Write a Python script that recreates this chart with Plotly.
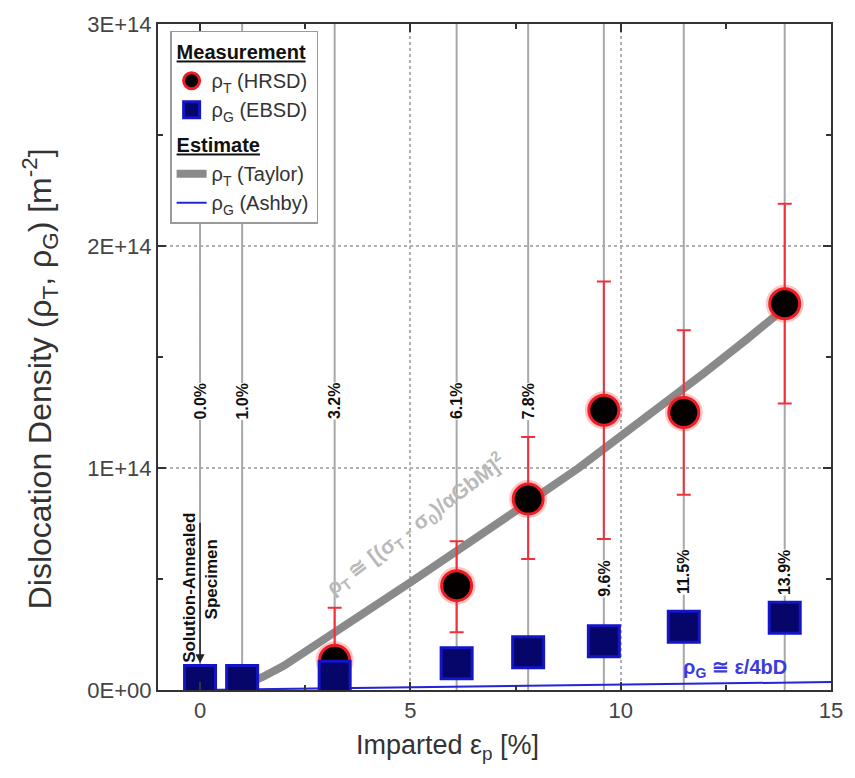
import plotly.graph_objects as go

# ---------------- data ----------------
strain = [0.0, 1.0, 3.2, 6.1, 7.8, 9.6, 11.5, 13.9]
strain_labels = ["0.0%", "1.0%", "3.2%", "6.1%", "7.8%", "9.6%", "11.5%", "13.9%"]
label_y = [1.30e14, 1.30e14, 1.30e14, 1.30e14, 1.30e14, 0.50e14, 0.53e14, 0.53e14]

hrsd_strain = [3.2, 6.1, 7.8, 9.6, 11.5, 13.9]
rho_T_hrsd = [0.134e14, 0.47e14, 0.86e14, 1.26e14, 1.25e14, 1.74e14]
rho_T_err_plus = [0.236e14, 0.20e14, 0.28e14, 0.58e14, 0.37e14, 0.45e14]
rho_T_err_minus = [0.10e14, 0.21e14, 0.27e14, 0.58e14, 0.37e14, 0.45e14]

rho_G_ebsd = [0.04e14, 0.04e14, 0.06e14, 0.12e14, 0.17e14, 0.22e14, 0.285e14, 0.325e14]
rho_G_err = [0.02e14] * 8

taylor_x = [1.0, 1.5, 2.0, 2.5, 3.0, 3.5, 4.0, 5.0, 6.0, 7.0, 8.0, 9.0, 10.0, 11.0, 12.0, 13.0, 13.9]
taylor_y = [0.02e14, 0.06e14, 0.11e14, 0.17e14, 0.23e14, 0.295e14, 0.36e14, 0.485e14, 0.61e14,
            0.74e14, 0.87e14, 1.00e14, 1.14e14, 1.28e14, 1.43e14, 1.58e14, 1.72e14]

ashby_x = [0.0, 5.0, 10.0, 15.0]
ashby_y = [0.0, 1.1e12, 2.3e12, 3.6e12]

x_ticks = [0, 5, 10, 15]
y_ticks = [0, 1e14, 2e14, 3e14]
y_ticktext = ["0E+00", "1E+14", "2E+14", "3E+14"]

FONT = "Arial, Liberation Sans, sans-serif"

fig = go.Figure()

# vertical strain guide lines
vx, vy = [], []
for s in strain:
    vx += [s, s, None]
    vy += [0, 3e14, None]
fig.add_trace(go.Scatter(x=vx, y=vy, mode="lines", line=dict(color="#a8a8a8", width=2),
                         showlegend=False, hoverinfo="skip"))

# Ashby estimate
fig.add_trace(go.Scatter(x=ashby_x, y=ashby_y, mode="lines", line=dict(color="#2424d8", width=2),
                         name="ρ<sub>G</sub> (Ashby)", legendgroup="e", legendrank=4,
                         legendgrouptitle=dict(text="<b><span style='text-decoration:underline'>Estimate</span></b>")))
# Taylor estimate
fig.add_trace(go.Scatter(x=taylor_x, y=taylor_y, mode="lines", line=dict(color="#8a8a8a", width=8),
                         name="ρ<sub>T</sub> (Taylor)", legendgroup="e", legendrank=3))

# HRSD glow
fig.add_trace(go.Scatter(x=hrsd_strain, y=rho_T_hrsd, mode="markers",
                         marker=dict(size=38, color="rgba(255,60,60,0.30)", line=dict(width=0)),
                         showlegend=False, hoverinfo="skip"))
# HRSD measurement
fig.add_trace(go.Scatter(x=hrsd_strain, y=rho_T_hrsd, mode="markers",
                         marker=dict(size=30, color="#050000", line=dict(color="#ee1c24", width=3)),
                         error_y=dict(type="data", array=rho_T_err_plus, arrayminus=rho_T_err_minus,
                                      color="#f0303a", thickness=2, width=7),
                         name="ρ<sub>T</sub> (HRSD)", legendgroup="m", legendrank=1,
                         legendgrouptitle=dict(text="<b><span style='text-decoration:underline'>Measurement</span></b>")))
# EBSD measurement
fig.add_trace(go.Scatter(x=strain, y=rho_G_ebsd, mode="markers",
                         marker=dict(size=31, symbol="square", color="#06066a", line=dict(color="#1515c8", width=3)),
                         error_y=dict(type="data", array=rho_G_err, color="#5050c0", thickness=1, width=4),
                         name="ρ<sub>G</sub> (EBSD)", legendgroup="m", legendrank=2))

annotations = []
for s, lab, ly in zip(strain, strain_labels, label_y):
    annotations.append(dict(x=s, y=ly, xref="x", yref="y", text=f"<b>{lab}</b>", textangle=-90,
                            showarrow=False, bgcolor="white", borderpad=0,
                            font=dict(family=FONT, size=16, color="#111")))

# Solution-annealed arrow & text
annotations.append(dict(x=0, y=0.12e14, ax=0, ay=0.76e14, xref="x", yref="y", axref="x", ayref="y",
                        text="", showarrow=True, arrowhead=2, arrowsize=1.2, arrowwidth=1.5,
                        arrowcolor="#222"))
annotations.append(dict(x=-0.24, y=0.46e14, xref="x", yref="y", text="<b>Solution-Annealed</b>",
                        textangle=-90, showarrow=False, xanchor="center", yanchor="middle",
                        font=dict(family=FONT, size=17, color="#111")))
annotations.append(dict(x=0.27, y=0.50e14, xref="x", yref="y", text="<b>Specimen</b>",
                        textangle=-90, showarrow=False, xanchor="center", yanchor="middle",
                        font=dict(family=FONT, size=17, color="#111")))
# formulas
annotations.append(dict(x=5.13, y=0.745e14, xref="x", yref="y",
                        text="<b>ρ<sub>T</sub> ≅ [(σ<sub>T</sub> - σ<sub>0</sub>)/αGbM]<sup>2</sup></b>",
                        textangle=-37, showarrow=False, font=dict(family=FONT, size=21, color="#b9b9b9")))
annotations.append(dict(x=12.72, y=0.095e14, xref="x", yref="y",
                        text="<b>ρ<sub>G</sub> ≅ ε/4bD</b>", showarrow=False,
                        font=dict(family=FONT, size=20, color="#3a3ae0")))
# axis titles
annotations.append(dict(x=(40 - 158) / 675, y=0.467, xref="paper", yref="paper",
                        xanchor="center", yanchor="middle",
                        text="Dislocation Density (ρ<sub>T</sub>, ρ<sub>G</sub>) [m<sup>-2</sup>]",
                        textangle=-90, showarrow=False, font=dict(family=FONT, size=32, color="#333")))
annotations.append(dict(x=0.43, y=-0.086, xref="paper", yref="paper", xanchor="center", yanchor="middle",
                        text="Imparted ε<sub>p</sub> [%]", showarrow=False,
                        font=dict(family=FONT, size=27, color="#333")))

fig.update_layout(
    width=855, height=778,
    margin=dict(l=158, r=22, t=18, b=88),
    paper_bgcolor="white", plot_bgcolor="white",
    font=dict(family=FONT, color="#333"),
    showlegend=True,
    legend=dict(x=0.018, y=0.99, xanchor="left", yanchor="top", bgcolor="white",
                bordercolor="#9a9a9a", borderwidth=1.5, traceorder="grouped",
                font=dict(family=FONT, size=20, color="#333"), tracegroupgap=6,
                grouptitlefont=dict(family=FONT, size=20, color="#111"), itemsizing="trace"),
    annotations=annotations,
)
fig.update_xaxes(range=[-1, 15], tickvals=x_ticks, ticks="inside", ticklen=8, tickwidth=2,
                 tickcolor="#333", showline=True, linecolor="#333", linewidth=2, mirror="ticks",
                 showgrid=True, gridcolor="#b0b0b0", griddash="dot", gridwidth=1.5, zeroline=False,
                 tickfont=dict(family=FONT, size=22, color="#444"),
                 minor=dict(dtick=2.5, tick0=0, ticks="inside", ticklen=5, tickcolor="#333", showgrid=False))
fig.update_yaxes(range=[0, 3e14], tickvals=y_ticks, ticktext=y_ticktext, ticks="inside", ticklen=8,
                 tickwidth=2, tickcolor="#333", showline=True, linecolor="#333", linewidth=2, mirror="ticks",
                 showgrid=True, gridcolor="#b0b0b0", griddash="dot", gridwidth=1.5, zeroline=False,
                 tickfont=dict(family=FONT, size=22, color="#444"),
                 minor=dict(dtick=0.5e14, tick0=0, ticks="inside", ticklen=5, tickcolor="#333", showgrid=False))

fig.write_html("out.html")
